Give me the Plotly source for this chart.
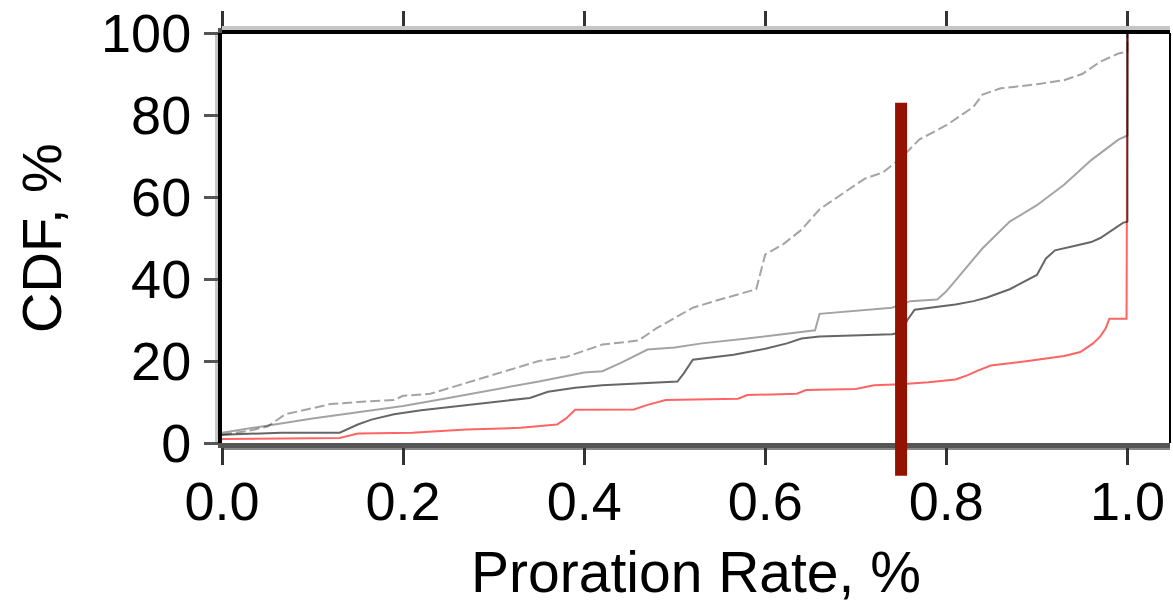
import plotly.graph_objects as go

# ---- data ----
dashed_x = [0.0, 0.03, 0.05, 0.07, 0.10, 0.12, 0.15, 0.19, 0.20, 0.23, 0.26, 0.29, 0.32, 0.35, 0.38,
            0.40, 0.42, 0.46, 0.48, 0.50, 0.52, 0.55, 0.58, 0.59, 0.60, 0.62, 0.64, 0.66, 0.68,
            0.71, 0.73, 0.75, 0.77, 0.80, 0.83, 0.84, 0.86, 0.90, 0.93, 0.95, 0.97, 0.99, 1.0, 1.0]
dashed_y = [2.0, 3.0, 4.0, 7.0, 8.5, 9.5, 10.0, 10.5, 11.5, 12.0, 14.0, 16.0, 18.0, 20.0, 21.0,
            22.5, 24.0, 25.0, 28.0, 30.5, 33.0, 35.0, 37.0, 37.5, 46.0, 48.5, 52.0, 57.0, 60.0,
            64.5, 66.0, 69.5, 74.0, 77.5, 82.0, 85.0, 86.5, 87.5, 88.5, 90.0, 93.0, 95.0, 95.5, 100.0]

light_x = [0.0, 0.05, 0.10, 0.15, 0.20, 0.25, 0.30, 0.35, 0.40, 0.42, 0.44, 0.47, 0.50, 0.53,
           0.58, 0.62, 0.655, 0.66, 0.70, 0.74, 0.76, 0.79, 0.80, 0.84, 0.87, 0.90, 0.93, 0.96,
           0.99, 1.0, 1.0]
light_y = [2.5, 4.2, 6.0, 7.5, 9.0, 11.0, 13.0, 15.0, 17.2, 17.5, 19.5, 22.8, 23.3, 24.3,
           25.5, 26.5, 27.5, 31.5, 32.3, 33.0, 34.6, 35.0, 37.0, 47.5, 54.0, 58.0, 63.0, 69.0,
           74.0, 75.0, 100.0]

dark_x = [0.0, 0.065, 0.13, 0.15, 0.165, 0.19, 0.22, 0.26, 0.30, 0.34, 0.36, 0.39, 0.42, 0.466,
          0.503, 0.51, 0.52, 0.565, 0.60, 0.624, 0.64, 0.66, 0.74, 0.75, 0.757, 0.765, 0.81,
          0.83, 0.845, 0.87, 0.88, 0.90, 0.91, 0.92, 0.94, 0.96, 0.97, 0.995, 1.0, 1.0]
dark_y = [2.0, 2.5, 2.5, 4.5, 5.7, 7.0, 8.0, 9.0, 10.0, 11.0, 12.5, 13.5, 14.1, 14.5,
          15.0, 17.0, 20.3, 21.5, 23.0, 24.3, 25.5, 26.0, 26.5, 27.0, 30.0, 32.5, 33.8,
          34.6, 35.5, 37.5, 38.7, 41.0, 45.0, 47.0, 48.0, 49.0, 50.0, 53.7, 54.0, 100.0]

red_x = [0.0, 0.13, 0.15, 0.21, 0.27, 0.33, 0.37, 0.38, 0.39, 0.455, 0.47, 0.49, 0.57, 0.58,
         0.635, 0.645, 0.70, 0.72, 0.75, 0.78, 0.81, 0.823, 0.834, 0.849, 0.89, 0.93, 0.948,
         0.962, 0.970, 0.976, 0.980, 0.999, 1.0]
red_y = [1.0, 1.2, 2.3, 2.5, 3.3, 3.7, 4.5, 6.0, 8.1, 8.2, 9.3, 10.5, 10.8, 11.7,
         12.0, 12.9, 13.2, 14.1, 14.3, 14.8, 15.5, 16.5, 17.6, 18.9, 20.0, 21.2, 22.2,
         24.3, 26.0, 28.0, 30.3, 30.3, 100.0]

marker_x = [0.75, 0.75]
marker_y = [-8, 83]

x_ticks = [0.0, 0.2, 0.4, 0.6, 0.8, 1.0]
y_ticks = [0, 20, 40, 60, 80, 100]
x_range = [0, 1.047]
y_range = [0, 100]

FONT = "Liberation Sans, Arial, sans-serif"

fig = go.Figure()
fig.add_trace(go.Scatter(x=red_x, y=red_y, mode="lines",
                         line=dict(color="rgb(255,100,100)", width=2), showlegend=False))
fig.add_trace(go.Scatter(x=dark_x, y=dark_y, mode="lines",
                         line=dict(color="rgba(0,0,0,0.6)", width=2), showlegend=False))
fig.add_trace(go.Scatter(x=light_x, y=light_y, mode="lines",
                         line=dict(color="rgba(0,0,0,0.36)", width=2), showlegend=False))
fig.add_trace(go.Scatter(x=dashed_x, y=dashed_y, mode="lines",
                         line=dict(color="rgba(0,0,0,0.36)", width=2, dash="10px,4px"),
                         showlegend=False))

def to_paper(v):
    return (v - y_range[0]) / (y_range[1] - y_range[0])

shapes = [
    # thick dark-red marker line
    dict(type="line", xref="x", yref="paper", x0=marker_x[0], x1=marker_x[1],
         y0=to_paper(marker_y[0]), y1=to_paper(marker_y[1]),
         line=dict(color="#931300", width=12), layer="above"),
    # top frame (black) with grey halo
    dict(type="line", xref="paper", yref="paper", ysizemode="pixel", yanchor=1,
         x0=0, x1=1, y0=1, y1=1, line=dict(color="black", width=4), layer="above"),
    dict(type="line", xref="paper", yref="paper", ysizemode="pixel", yanchor=1,
         x0=0, x1=1, y0=5, y1=5, line=dict(color="#c6c6c6", width=4), layer="above"),
    # right frame
    dict(type="line", xref="paper", yref="paper", x0=1, x1=1, y0=0, y1=1,
         line=dict(color="black", width=2), layer="above"),
    # left grey halo
    dict(type="line", xref="paper", yref="paper", xsizemode="pixel", xanchor=0,
         x0=-5, x1=-5, y0=0, y1=1, line=dict(color="#c6c6c6", width=4), layer="below"),
    # bottom lighter grey band
    dict(type="line", xref="paper", yref="paper", ysizemode="pixel", yanchor=0,
         x0=0, x1=1, y0=-5, y1=-5, line=dict(color="#888888", width=4), layer="below"),
]

fig.update_layout(
    width=1173, height=604,
    margin=dict(l=222, r=3, t=33, b=152),
    paper_bgcolor="white", plot_bgcolor="white",
    font=dict(family=FONT, size=54, color="black"),
    shapes=shapes,
    xaxis=dict(range=x_range, tickvals=x_ticks, tickformat=".1f",
               showgrid=False, zeroline=False,
               showline=True, linecolor="#555555", linewidth=5, mirror="ticks",
               ticks="outside", ticklen=17, tickwidth=3, tickcolor="#333333",
               ticklabelstandoff=-10,
               tickfont=dict(family=FONT, size=54),
               title=dict(text="Proration Rate, %", font=dict(family=FONT, size=57), standoff=30)),
    yaxis=dict(range=y_range, tickvals=y_ticks,
               showgrid=False, zeroline=False,
               showline=True, linecolor="black", linewidth=4,
               ticks="outside", ticklen=14, tickwidth=3, tickcolor="#555555",
               ticklabelstandoff=2,
               tickfont=dict(family=FONT, size=54),
               title=dict(text="CDF, %", font=dict(family=FONT, size=56), standoff=22)),
)

fig.write_html("out.html")
